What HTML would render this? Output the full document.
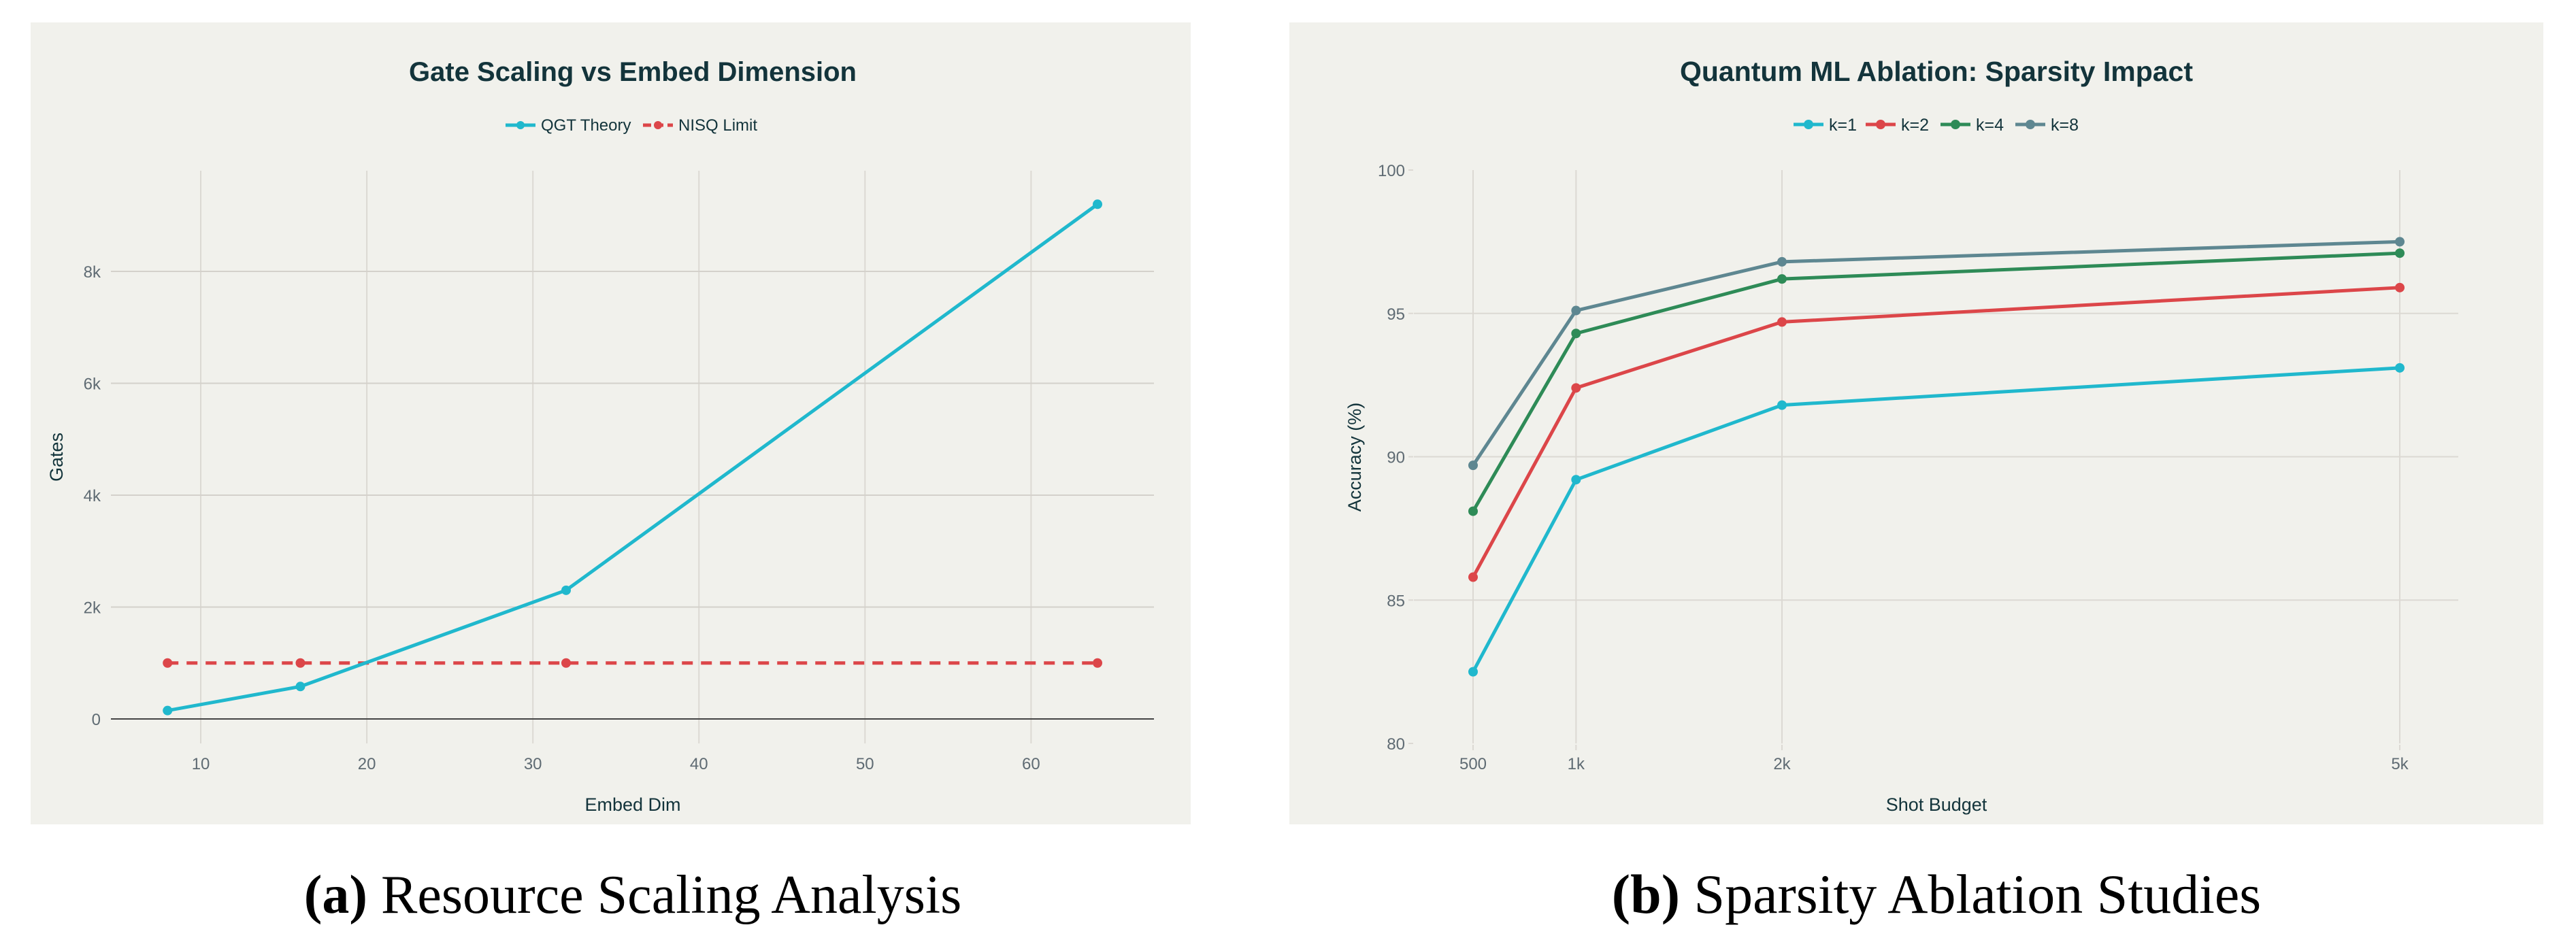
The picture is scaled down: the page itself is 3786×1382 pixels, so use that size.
<!DOCTYPE html>
<html><head><meta charset="utf-8"><style>
html,body{margin:0;padding:0;background:#fff;}
svg{display:block;}
text{font-family:"Liberation Sans",sans-serif;}
</style></head><body>
<svg id="root" width="3786" height="1382" viewBox="0 0 3786 1382" xmlns="http://www.w3.org/2000/svg">
<rect x="45" y="33" width="1705" height="1179" fill="#f1f1ec"/>
<rect x="1895" y="33" width="1843" height="1179" fill="#f1f1ec"/>
<text x="930" y="119" text-anchor="middle" font-size="40" font-weight="bold" fill="#13343b">Gate Scaling vs Embed Dimension</text>
<text x="2846" y="119" text-anchor="middle" font-size="41" font-weight="bold" fill="#13343b">Quantum ML Ablation: Sparsity Impact</text>
<g id="left"></g>
<g id="right"></g>
<text x="930" y="1342" text-anchor="middle" font-size="80" fill="#000" style="font-family:'Liberation Serif',serif"><tspan font-weight="bold">(a)</tspan> Resource Scaling Analysis</text>
<text x="2846" y="1342" text-anchor="middle" font-size="82" fill="#000" style="font-family:'Liberation Serif',serif"><tspan font-weight="bold">(b)</tspan> Sparsity Ablation Studies</text>
</svg>
<script>
// Left chart data
const embedDims = [8, 16, 32, 64];
const qgtGates = [150, 580, 2300, 9200];
const nisqGates = [1000, 1000, 1000, 1000];
const leftXTicks = [10, 20, 30, 40, 50, 60];
const leftYTicks = [0, 2000, 4000, 6000, 8000];
const leftYTickLabels = ["0", "2k", "4k", "6k", "8k"];
// Right chart data
const shotBudgets = [500, 1000, 2000, 5000];
const shotTickLabels = ["500", "1k", "2k", "5k"];
const accK1 = [82.5, 89.2, 91.8, 93.1];
const accK2 = [85.8, 92.4, 94.7, 95.9];
const accK4 = [88.1, 94.3, 96.2, 97.1];
const accK8 = [89.7, 95.1, 96.8, 97.5];
const seriesNames = ["k=1", "k=2", "k=4", "k=8"];
const rightYTicks = [80, 85, 90, 95, 100];

const NS = "http://www.w3.org/2000/svg";
function mk(parent, tag, attrs, txt) {
  const e = document.createElementNS(NS, tag);
  for (const k in attrs) e.setAttribute(k, attrs[k]);
  if (txt !== undefined) e.textContent = txt;
  parent.appendChild(e);
  return e;
}
const tickColor = "#5f6b73", gridColor = "#dcd9d3", titleColor = "#13343b";

// ---------- Left chart ----------
(function () {
  const g = document.getElementById("left");
  const L = 163, R = 1696, T = 251, B = 1093;
  const xs = v => L + (v - 4.59) / (67.4 - 4.59) * (R - L);
  const ys = v => 1057 - v / 1000 * 82.25;
  leftXTicks.forEach(t => {
    const l = mk(g, "line", {x1: xs(t), x2: xs(t), y1: T, y2: B, stroke: gridColor, "stroke-width": 2});
    
    
    const tx = mk(g, "text", {x: xs(t), y: 1131, "text-anchor": "middle", "font-size": 24, fill: tickColor}, String(t));
    
    
  });
  leftYTicks.forEach((t, i) => {
    const l = mk(g, "line", {x1: L, x2: R, y1: ys(t), y2: ys(t), stroke: t === 0 ? "#444" : "#d4d1cb", "stroke-width": 2});
    
    
    const tx = mk(g, "text", {x: 148, y: ys(t) + 9, "text-anchor": "end", "font-size": 24, fill: tickColor}, leftYTickLabels[i]);
    
    
  });
  const xt = mk(g, "text", {x: 930, y: 1192, "text-anchor": "middle", "font-size": 27, fill: titleColor}, "Embed Dim");
  
  
  const yt = mk(g, "text", {x: 0, y: 0, "text-anchor": "middle", "font-size": 27, fill: titleColor, transform: "translate(92,672) rotate(-90)"}, "Gates");
  
  

  const nisqPts = embedDims.map((d, i) => xs(d) + "," + ys(nisqGates[i])).join(" ");
  const nl = mk(g, "polyline", {points: nisqPts, fill: "none", stroke: "#dc4649", "stroke-width": 5, "stroke-dasharray": "16,12"});
  
  
  embedDims.forEach((d, i) => {
    const c = mk(g, "circle", {cx: xs(d), cy: ys(nisqGates[i]), r: 7, fill: "#dc4649"});
    
    
  });
  const qPts = embedDims.map((d, i) => xs(d) + "," + ys(qgtGates[i])).join(" ");
  const ql = mk(g, "polyline", {points: qPts, fill: "none", stroke: "#20b8cd", "stroke-width": 5});
  
  
  embedDims.forEach((d, i) => {
    const c = mk(g, "circle", {cx: xs(d), cy: ys(qgtGates[i]), r: 7, fill: "#20b8cd"});
    
    
  });
  const legend = [["QGT Theory", "#20b8cd", 743, 795, false], ["NISQ Limit", "#dc4649", 945, 997, true]];
  legend.forEach(([name, col, lx, tx2, dash]) => {
    const ln = mk(g, "line", {x1: lx, x2: lx + 44, y1: 184, y2: 184, stroke: col, "stroke-width": 5, "stroke-dasharray": dash ? "12,6" : "none"});
    
    
    mk(g, "circle", {cx: lx + 22, cy: 184, r: 6, fill: col});
    const t = mk(g, "text", {x: tx2, y: 192, "font-size": 24, fill: titleColor}, name);
    
    
  });
})();

// ---------- Right chart ----------
(function () {
  const g = document.getElementById("right");
  const L = 2078, R = 3613, T = 250, B = 1093;
  const xs = v => 2165 + (v - 500) * (3527 - 2165) / 4500;
  const ys = v => B - (v - 80) * 42.15;
  shotBudgets.forEach((s, i) => {
    const l = mk(g, "line", {x1: xs(s), x2: xs(s), y1: T, y2: B, stroke: gridColor, "stroke-width": 2});
    
    
    mk(g, "line", {x1: xs(s), x2: xs(s), y1: B + 2, y2: B + 10, stroke: gridColor, "stroke-width": 2});
    const tx = mk(g, "text", {x: xs(s), y: 1131, "text-anchor": "middle", "font-size": 24, fill: tickColor}, shotTickLabels[i]);
    
    
  });
  rightYTicks.forEach(t => {
    if (t > 80 && t < 100) {
      const l = mk(g, "line", {x1: L, x2: R, y1: ys(t), y2: ys(t), stroke: gridColor, "stroke-width": 2});
      
      
    }
    mk(g, "line", {x1: 2070, x2: 2077, y1: ys(t), y2: ys(t), stroke: gridColor, "stroke-width": 2});
    const tx = mk(g, "text", {x: 2065, y: ys(t) + 9, "text-anchor": "end", "font-size": 24, fill: tickColor}, String(t));
    
    
  });
  const xt = mk(g, "text", {x: 2846, y: 1192, "text-anchor": "middle", "font-size": 27, fill: titleColor}, "Shot Budget");
  
  
  const yt = mk(g, "text", {x: 0, y: 0, "text-anchor": "middle", "font-size": 27, fill: titleColor, transform: "translate(2000,672) rotate(-90)"}, "Accuracy (%)");
  
  

  const series = [accK1, accK2, accK4, accK8];
  const colors = ["#20b8cd", "#dc4649", "#2e8b57", "#5e8791"];
  series.forEach((vals, si) => {
    const pts = shotBudgets.map((s, i) => xs(s) + "," + ys(vals[i])).join(" ");
    const pl = mk(g, "polyline", {points: pts, fill: "none", stroke: colors[si], "stroke-width": 5});
    
    
    shotBudgets.forEach((s, i) => {
      const c = mk(g, "circle", {cx: xs(s), cy: ys(vals[i]), r: 7, fill: colors[si]});
      
      
    });
  });
  const lxs = [2636, 2742, 2852, 2962];
  seriesNames.forEach((n, i) => {
    const ln = mk(g, "line", {x1: lxs[i], x2: lxs[i] + 44, y1: 183, y2: 183, stroke: colors[i], "stroke-width": 5});
    
    
    mk(g, "circle", {cx: lxs[i] + 22, cy: 183, r: 7, fill: colors[i]});
    const t = mk(g, "text", {x: lxs[i] + 52, y: 192, "font-size": 25, fill: titleColor}, n);
    
    
  });
})();
</script>
</body></html>
